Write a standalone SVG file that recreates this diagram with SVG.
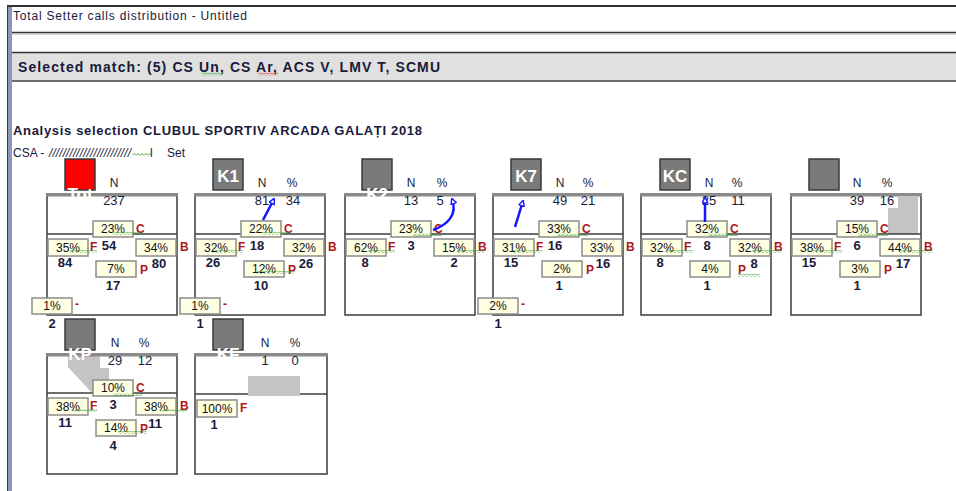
<svg xmlns="http://www.w3.org/2000/svg" width="956" height="491" viewBox="0 0 956 491">
<style>
text{font-family:"Liberation Sans",Arial,sans-serif;fill:#1a1a3a}
.ttl{font-size:12px}
.hb{font-size:13px;font-weight:bold}
.hm{font-size:14px;font-weight:bold}
.hd{font-size:12px;text-anchor:middle}
.hv{font-size:13px;text-anchor:middle}
.cnt{font-size:13px;font-weight:bold;text-anchor:middle}
.pc{font-size:12px;text-anchor:middle;fill:#111}
.rl{font-size:12px;font-weight:bold;fill:#b01818}
.box{fill:#ffffe4;stroke:#8c8c8c;stroke-width:1.5}
.frame{fill:#fff;stroke:#3c3c3c;stroke-width:1.5}
.mid{stroke:#3c3c3c;stroke-width:1.5}
.bar{fill:#8a8a8a}
.icon{fill:#7a7a7a;stroke:#3a3a3a;stroke-width:1.5}
.il{font-size:17px;font-weight:bold;fill:#fff;text-anchor:middle}
.arr{stroke:#1414ff;stroke-width:2.5;fill:none;marker-end:url(#ah)}
.gsh{fill:#c4c4c4}
.wg{fill:url(#wg)}
.wr{fill:url(#wr)}
</style>
<defs>
<pattern id="wg" width="4" height="3" patternUnits="userSpaceOnUse"><path d="M0,2.5 L2,0.5 L4,2.5" fill="none" stroke="#2a9a2a" stroke-width="0.9"/></pattern>
<pattern id="wr" width="4" height="3" patternUnits="userSpaceOnUse"><path d="M0,2.5 L2,0.5 L4,2.5" fill="none" stroke="#e02020" stroke-width="0.9"/></pattern>
<marker id="ah" viewBox="0 0 10 10" refX="8" refY="5" markerWidth="2.8" markerHeight="2.8" orient="auto"><path d="M1,1 L9,5 L1,9 Z" fill="#fff" stroke="#1414ff" stroke-width="2"/></marker>
</defs>
<rect width="956" height="491" fill="#fff"/>
<g id="header">
<rect x="7" y="5" width="5" height="486" fill="#8b98b6"/>
<line x1="7.5" y1="5" x2="7.5" y2="491" stroke="#3a3a3a" stroke-width="1"/>
<rect x="12" y="53" width="944" height="28" fill="#e0e0e0"/>
<line x1="7" y1="6" x2="956" y2="6" stroke="#333" stroke-width="2"/>
<line x1="12" y1="32.5" x2="956" y2="32.5" stroke="#333" stroke-width="1.5"/>
<line x1="12" y1="34" x2="956" y2="34" stroke="#aaa" stroke-width="1"/>
<line x1="12" y1="52.5" x2="956" y2="52.5" stroke="#333" stroke-width="1.5"/>
<line x1="12" y1="81" x2="956" y2="81" stroke="#444" stroke-width="1.5"/>
<text class="ttl" x="13" y="20" textLength="234">Total Setter calls distribution - Untitled</text>
<text class="hm" x="18" y="72" textLength="422">Selected match: (5) CS Un, CS Ar, ACS V, LMV T, SCMU</text>
<rect class="wg" x="202" y="72.5" width="21" height="3"/>
<rect class="wr" x="258" y="72.5" width="20" height="3"/>
<text class="hb" x="13" y="135" textLength="409">Analysis selection CLUBUL SPORTIV ARCADA GALAȚI 2018</text>
<text class="ttl" x="13" y="157">CSA -</text>
<text class="ttl" x="49" y="157" textLength="82" font-style="italic">////////////////////////</text>
<rect class="wg" x="132" y="153" width="19" height="3"/>
<text class="ttl" x="150" y="157">l</text>
<text class="ttl" x="167" y="157">Set</text>
</g>

<g id="panel-tot" transform="translate(47,195)">
<rect class="frame" x="0" y="0" width="130" height="120"/>
<rect class="bar" x="-1" y="-2" width="132" height="3.5"/>
<line class="mid" x1="0" y1="39" x2="130" y2="39"/>
<rect x="18" y="-36" width="30" height="31" fill="#ff0000" stroke="#3a3a3a" stroke-width="1.5"/>
<text class="il" x="33" y="5">Tot</text>
<text class="hd" x="67" y="-8">N</text>
<text class="hv" x="67" y="10">237</text>
<rect class="box" x="46" y="26" width="40" height="16"/><text class="pc" x="66" y="38">23%</text><text class="rl" x="89" y="38">C</text>
<text class="cnt" x="62" y="55">54</text>
<rect class="box" x="1" y="44" width="40" height="17"/><text class="pc" x="21" y="57">35%</text><text class="rl" x="43" y="56">F</text>
<text class="cnt" x="18" y="72">84</text>
<rect class="box" x="89" y="44" width="40" height="17"/><text class="pc" x="109" y="57">34%</text><text class="rl" x="133" y="56">B</text>
<text class="cnt" x="112" y="73">80</text>
<rect class="box" x="49" y="66" width="40" height="16"/><text class="pc" x="69" y="78">7%</text><text class="rl" x="93" y="79">P</text>
<text class="cnt" x="66" y="95">17</text>
<rect class="box" x="-15" y="103" width="40" height="16"/><text class="pc" x="5" y="115">1%</text><text class="rl" x="28" y="113">-</text>
<text class="cnt" x="5" y="133">2</text>
<rect class="wg" x="23" y="55" width="27" height="3"/>
<rect class="wg" x="66" y="37" width="30" height="3"/>
</g>

<g id="panel-k1" transform="translate(195,195)">
<rect class="frame" x="0" y="0" width="130" height="120"/>
<rect class="bar" x="-1" y="-2" width="132" height="3.5"/>
<line class="mid" x1="0" y1="39" x2="130" y2="39"/>
<rect class="icon" x="18" y="-36" width="30" height="31"/>
<text class="il" x="33" y="-13">K1</text>
<text class="hd" x="67" y="-8">N</text><text class="hd" x="97" y="-8">%</text>
<text class="hv" x="67" y="10">81</text><text class="hv" x="98" y="10">34</text>
<rect class="box" x="46" y="26" width="40" height="16"/><text class="pc" x="66" y="38">22%</text><text class="rl" x="89" y="38">C</text>
<text class="cnt" x="62" y="55">18</text>
<rect class="box" x="1" y="44" width="40" height="17"/><text class="pc" x="21" y="57">32%</text><text class="rl" x="43" y="56">F</text>
<text class="cnt" x="18" y="72">26</text>
<rect class="box" x="89" y="44" width="40" height="17"/><text class="pc" x="109" y="57">32%</text><text class="rl" x="133" y="56">B</text>
<text class="cnt" x="111" y="73">26</text>
<rect class="box" x="49" y="66" width="40" height="16"/><text class="pc" x="69" y="78">12%</text><text class="rl" x="93" y="79">P</text>
<text class="cnt" x="66" y="95">10</text>
<rect class="box" x="-15" y="103" width="40" height="16"/><text class="pc" x="5" y="115">1%</text><text class="rl" x="28" y="113">-</text>
<text class="cnt" x="5" y="133">1</text>
<rect class="wg" x="17" y="55" width="31" height="3"/>
<rect class="wg" x="67" y="37" width="28" height="3"/>
<rect class="wg" x="62" y="76" width="38" height="3"/>
</g>

<g id="panel-k2" transform="translate(345,195)">
<rect class="frame" x="0" y="0" width="130" height="120"/>
<rect class="bar" x="-1" y="-2" width="132" height="3.5"/>
<line class="mid" x1="0" y1="39" x2="130" y2="39"/>
<rect class="icon" x="17" y="-36" width="30" height="31"/>
<text class="il" x="32" y="5">K2</text>
<text class="hd" x="66" y="-8">N</text><text class="hd" x="97" y="-8">%</text>
<text class="hv" x="66" y="10">13</text><text class="hv" x="95" y="10">5</text>
<rect class="box" x="46" y="26" width="40" height="16"/><text class="pc" x="66" y="38">23%</text><text class="rl" x="89" y="38">C</text>
<text class="cnt" x="66" y="55">3</text>
<rect class="box" x="1" y="44" width="40" height="17"/><text class="pc" x="21" y="57">62%</text><text class="rl" x="43" y="56">F</text>
<text class="cnt" x="20" y="72">8</text>
<rect class="box" x="89" y="44" width="40" height="17"/><text class="pc" x="109" y="57">15%</text><text class="rl" x="133" y="56">B</text>
<text class="cnt" x="109" y="72">2</text>
<rect class="wg" x="23" y="55" width="27" height="3"/>
<rect class="wg" x="68" y="38" width="29" height="3"/>
<rect class="wg" x="112" y="55" width="28" height="3"/>
</g>

<g id="panel-k7" transform="translate(493,195)">
<rect class="frame" x="0" y="0" width="130" height="120"/>
<rect class="bar" x="-1" y="-2" width="132" height="3.5"/>
<line class="mid" x1="0" y1="39" x2="130" y2="39"/>
<rect class="icon" x="18" y="-36" width="30" height="31"/>
<text class="il" x="33" y="-13">K7</text>
<text class="hd" x="67" y="-8">N</text><text class="hd" x="95" y="-8">%</text>
<text class="hv" x="67" y="10">49</text><text class="hv" x="95" y="10">21</text>
<rect class="box" x="46" y="26" width="40" height="16"/><text class="pc" x="66" y="38">33%</text><text class="rl" x="89" y="38">C</text>
<text class="cnt" x="62" y="55">16</text>
<rect class="box" x="1" y="44" width="40" height="17"/><text class="pc" x="21" y="57">31%</text><text class="rl" x="43" y="56">F</text>
<text class="cnt" x="18" y="72">15</text>
<rect class="box" x="89" y="44" width="40" height="17"/><text class="pc" x="109" y="57">33%</text><text class="rl" x="133" y="56">B</text>
<text class="cnt" x="110" y="73">16</text>
<rect class="box" x="49" y="66" width="40" height="16"/><text class="pc" x="69" y="78">2%</text><text class="rl" x="93" y="79">P</text>
<text class="cnt" x="66" y="95">1</text>
<rect class="box" x="-15" y="103" width="40" height="16"/><text class="pc" x="5" y="115">2%</text><text class="rl" x="28" y="113">-</text>
<text class="cnt" x="5" y="133">1</text>
<rect class="wg" x="19" y="55" width="30" height="3"/>
<rect class="wg" x="65" y="38" width="30" height="3"/>
</g>

<g id="panel-kc" transform="translate(641,195)">
<rect class="frame" x="0" y="0" width="130" height="120"/>
<rect class="bar" x="-1" y="-2" width="132" height="3.5"/>
<line class="mid" x1="0" y1="39" x2="130" y2="39"/>
<rect class="icon" x="19" y="-36" width="30" height="31"/>
<text class="il" x="34" y="-13">KC</text>
<text class="hd" x="68" y="-8">N</text><text class="hd" x="96" y="-8">%</text>
<text class="hv" x="68" y="10">25</text><text class="hv" x="97" y="10">11</text>
<rect class="box" x="46" y="26" width="40" height="16"/><text class="pc" x="66" y="38">32%</text><text class="rl" x="89" y="38">C</text>
<text class="cnt" x="66" y="55">8</text>
<rect class="box" x="1" y="44" width="40" height="17"/><text class="pc" x="21" y="57">32%</text><text class="rl" x="43" y="56">F</text>
<text class="cnt" x="19" y="72">8</text>
<rect class="box" x="89" y="44" width="40" height="17"/><text class="pc" x="109" y="57">32%</text><text class="rl" x="133" y="56">B</text>
<text class="cnt" x="113" y="73">8</text>
<rect class="box" x="49" y="66" width="40" height="16"/><text class="pc" x="69" y="78">4%</text><text class="rl" x="97" y="79">P</text>
<text class="cnt" x="66" y="95">1</text>
<rect class="wg" x="26" y="55" width="26" height="3"/>
<rect class="wg" x="67" y="38" width="30" height="3"/>
<rect class="wg" x="111" y="55" width="30" height="3"/>
<rect class="wg" x="97" y="79" width="22" height="3"/>
</g>

<g id="panel-6" transform="translate(791,195)">
<rect class="frame" x="0" y="0" width="130" height="120"/>
<rect class="gsh" x="97" y="2" width="30" height="37"/>
<rect x="86" y="2" width="21" height="11" fill="#fff"/>
<rect class="bar" x="-1" y="-2" width="132" height="3.5"/>
<line class="mid" x1="0" y1="39" x2="130" y2="39"/>
<rect class="icon" x="18" y="-36" width="30" height="31"/>
<text class="hd" x="66" y="-8">N</text><text class="hd" x="96" y="-8">%</text>
<text class="hv" x="66" y="10">39</text><text class="hv" x="96" y="10">16</text>
<rect class="box" x="46" y="26" width="40" height="16"/><text class="pc" x="66" y="38">15%</text><text class="rl" x="89" y="38">C</text>
<text class="cnt" x="66" y="55">6</text>
<rect class="box" x="1" y="44" width="40" height="17"/><text class="pc" x="21" y="57">38%</text><text class="rl" x="43" y="56">F</text>
<text class="cnt" x="18" y="72">15</text>
<rect class="box" x="89" y="44" width="40" height="17"/><text class="pc" x="109" y="57">44%</text><text class="rl" x="133" y="56">B</text>
<text class="cnt" x="112" y="73">17</text>
<rect class="box" x="49" y="66" width="40" height="16"/><text class="pc" x="69" y="78">3%</text><text class="rl" x="93" y="79">P</text>
<text class="cnt" x="66" y="95">1</text>
<rect class="wg" x="22" y="55" width="29" height="3"/>
<rect class="wg" x="67" y="38" width="30" height="3"/>
<rect class="wg" x="109" y="55" width="33" height="3"/>
</g>

<g id="panel-kp" transform="translate(47,355)">
<rect class="frame" x="0" y="0" width="130" height="119"/>
<polygon class="gsh" points="21,1 62,1 62,38 45,38 21,12"/>
<rect x="53" y="1" width="27" height="12" fill="#fff"/>
<rect class="bar" x="-1" y="-2" width="132" height="3.5"/>
<line class="mid" x1="0" y1="38" x2="130" y2="38"/>
<rect class="icon" x="18" y="-36" width="30" height="31"/>
<text class="il" x="33" y="5">KP</text>
<text class="hd" x="68" y="-8">N</text><text class="hd" x="97" y="-8">%</text>
<text class="hv" x="68" y="10">29</text><text class="hv" x="98" y="10">12</text>
<rect class="box" x="46" y="25" width="40" height="16"/><text class="pc" x="66" y="37">10%</text><text class="rl" x="89" y="37">C</text>
<text class="cnt" x="66" y="54">3</text>
<rect class="box" x="1" y="43" width="40" height="17"/><text class="pc" x="21" y="56">38%</text><text class="rl" x="43" y="55">F</text>
<text class="cnt" x="18" y="72">11</text>
<rect class="box" x="89" y="43" width="40" height="17"/><text class="pc" x="109" y="56">38%</text><text class="rl" x="133" y="55">B</text>
<text class="cnt" x="108" y="73">11</text>
<rect class="box" x="49" y="65" width="40" height="16"/><text class="pc" x="69" y="77">14%</text><text class="rl" x="93" y="78">P</text>
<text class="cnt" x="66" y="95">4</text>
<rect class="wg" x="25" y="54" width="25" height="3"/>
<rect class="wg" x="66" y="38" width="29" height="3"/>
<rect class="wg" x="115" y="54" width="25" height="3"/>
<rect class="wg" x="71" y="76" width="29" height="3"/>
</g>

<g id="panel-kf" transform="translate(195,355)">
<rect class="frame" x="0" y="0" width="132" height="119"/>
<rect class="bar" x="-1" y="-2" width="134" height="3.5"/>
<line class="mid" x1="0" y1="39" x2="132" y2="39"/>
<rect class="gsh" x="53" y="21" width="52" height="20"/>
<rect class="icon" x="18" y="-36" width="30" height="31"/>
<text class="il" x="33" y="5">KF</text>
<text class="hd" x="70" y="-8">N</text><text class="hd" x="100" y="-8">%</text>
<text class="hv" x="70" y="10">1</text><text class="hv" x="100" y="10">0</text>
<rect class="box" x="2" y="45" width="40" height="17"/><text class="pc" x="22" y="58">100%</text><text class="rl" x="45" y="57">F</text>
<text class="cnt" x="19" y="74">1</text>
</g>

<g id="connectors">
<path class="arr" d="M263,220 L274,199"/>
<path class="arr" d="M433,230 C447,225 458,215 452,199"/>
<path class="arr" d="M515,227 L523,201"/>
<path class="arr" d="M705,222 L705,198"/>
</g>
</svg>
